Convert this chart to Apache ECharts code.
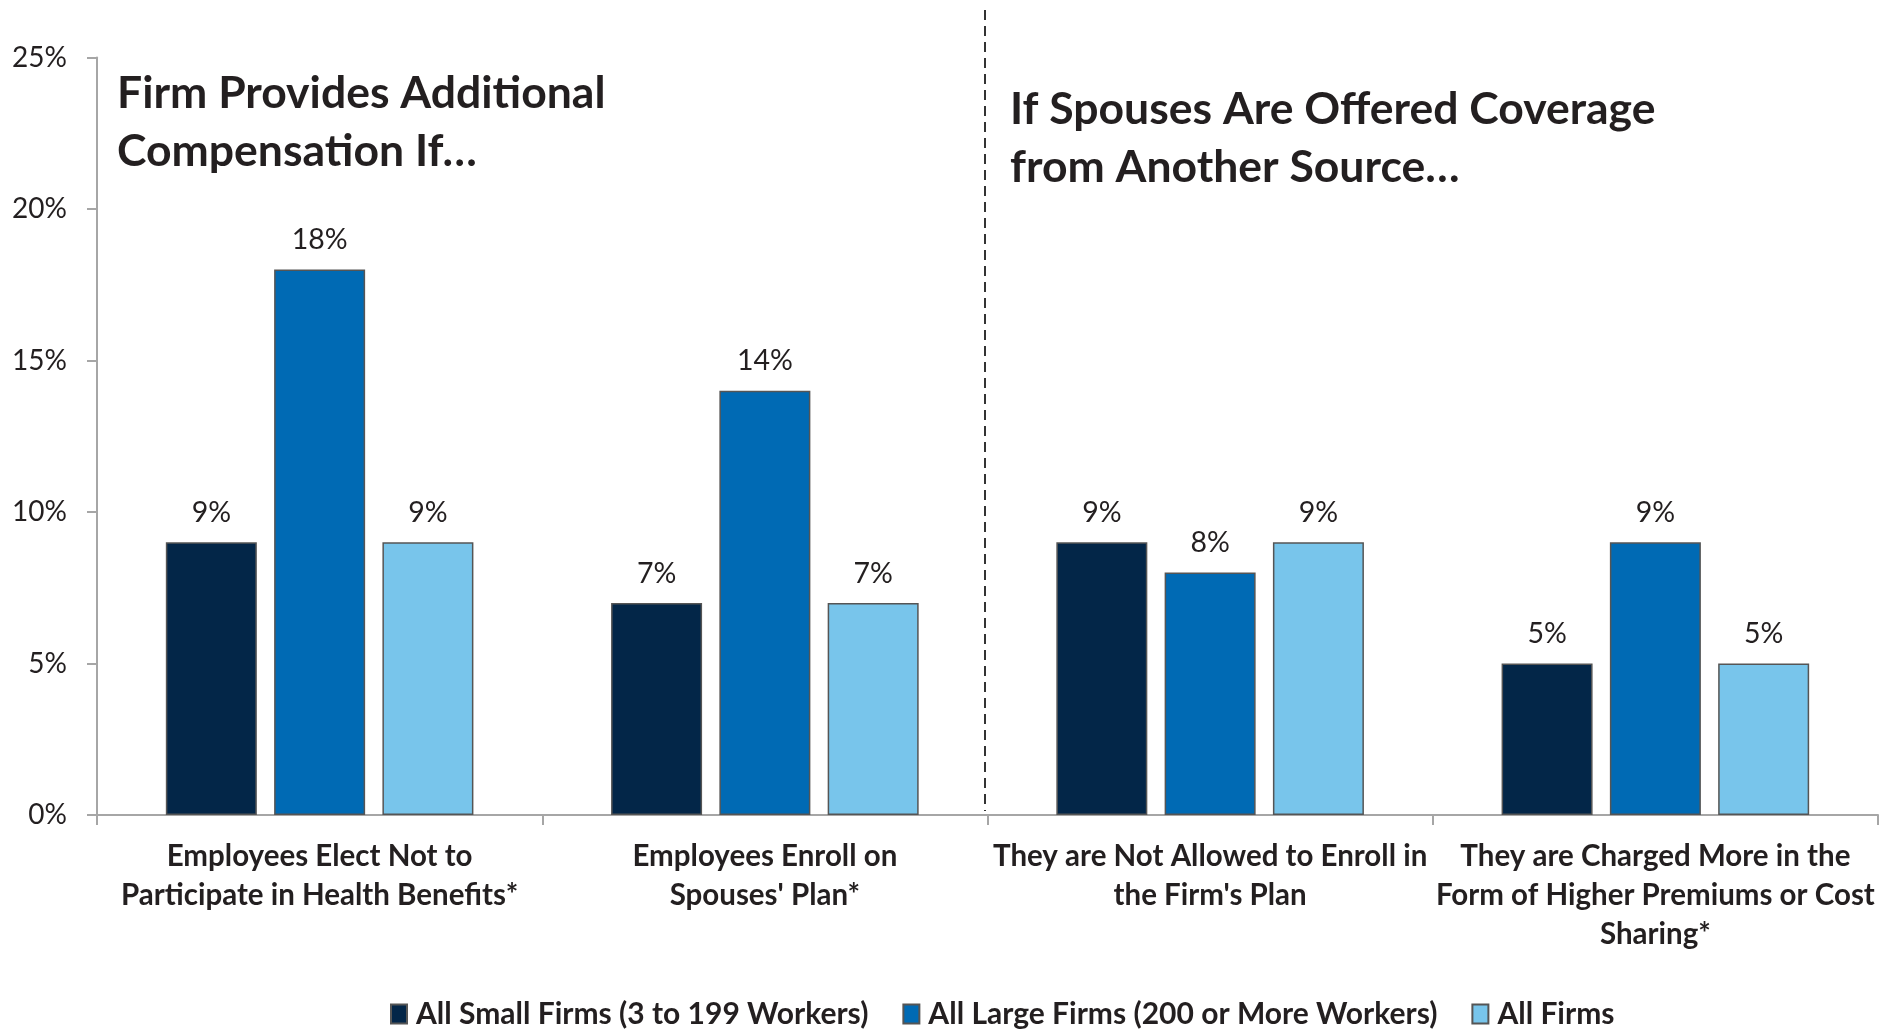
<!DOCTYPE html>
<html>
<head>
<meta charset="utf-8">
<script src="https://cdn.jsdelivr.net/npm/echarts@6/dist/echarts.min.js"></script>
<style>
  html, body { margin: 0; padding: 0; background: #fff; }
  #chart { width: 1896px; height: 1029px; }
</style>
</head>
<body>
<div id="chart"></div>
<script>
// Categories (with manual line breaks for the axis labels)
const categories = [
  'Employees Elect Not to\nParticipate in Health Benefits*',
  'Employees Enroll on\nSpouses\' Plan*',
  'They are Not Allowed to Enroll in\nthe Firm\'s Plan',
  'They are Charged More in the\nForm of Higher Premiums or Cost\nSharing*'
];

// Percent of firms, by firm size
const smallFirms = [9, 7, 9, 5];
const largeFirms = [18, 14, 8, 9];
const allFirms = [9, 7, 9, 5];

const seriesNames = [
  'All Small Firms (3 to 199 Workers)',
  'All Large Firms (200 or More Workers)',
  'All Firms'
];

const panelTitles = [
  'Firm Provides Additional\nCompensation If…',
  'If Spouses Are Offered Coverage\nfrom Another Source…'
];

const yTicks = { min: 0, max: 25, interval: 5 };

const colors = ['#032648', '#006AB4', '#78C5EB'];
const textColor = '#231f20';
const axisColor = '#a6a6a6';
const FONT = 'Lato, "Open Sans", sans-serif';

const chart = echarts.init(document.getElementById('chart'), null, { renderer: 'canvas' });

function barSeries(name, data, color) {
  return {
    name: name,
    type: 'bar',
    data: data,
    barWidth: 91,
    barGap: '19%',
    itemStyle: { color: color, borderColor: '#555555', borderWidth: 1.5 },
    label: {
      show: true,
      position: 'top',
      distance: 15,
      formatter: '{c}%',
      fontFamily: FONT,
      fontSize: 28.5,
      color: textColor
    },
    emphasis: { disabled: true }
  };
}

const titleStyle = { fontFamily: FONT, fontWeight: 'bold', fontSize: 44.5, lineHeight: 58, color: textColor };

const option = {
  animation: false,
  backgroundColor: '#ffffff',
  textStyle: { fontFamily: FONT },
  title: [
    { text: panelTitles[0], left: 117, top: 65, padding: 0, textStyle: titleStyle },
    { text: panelTitles[1], left: 1010, top: 81, padding: 0, textStyle: titleStyle }
  ],
  legend: {
    left: 385,
    top: 994,
    itemWidth: 16,
    itemHeight: 19,
    itemGap: 34,
    icon: 'rect',
    data: seriesNames,
    textStyle: {
      fontFamily: FONT, fontWeight: 'bold', fontSize: 30, color: textColor,
      padding: [0, 0, 0, 4]
    }
  },
  grid: { left: 97, right: 18, top: 57.5, bottom: 214, containLabel: false },
  xAxis: {
    type: 'category',
    data: categories,
    axisLine: { lineStyle: { color: axisColor, width: 2 } },
    axisTick: { show: true, length: 10, lineStyle: { color: axisColor, width: 2 } },
    axisLabel: {
      interval: 0,
      margin: 22,
      fontFamily: FONT,
      fontWeight: 'bold',
      fontSize: 29.5,
      lineHeight: 39,
      color: textColor,
      align: 'center'
    },
    splitLine: { show: false }
  },
  yAxis: {
    type: 'value',
    min: yTicks.min,
    max: yTicks.max,
    interval: yTicks.interval,
    axisLine: { show: true, lineStyle: { color: axisColor, width: 2 } },
    axisTick: { show: true, length: 10, lineStyle: { color: axisColor, width: 2 } },
    axisLabel: {
      formatter: '{value}%',
      margin: 30,
      fontFamily: FONT,
      fontSize: 28,
      color: textColor
    },
    splitLine: { show: false }
  },
  series: [
    barSeries(seriesNames[0], smallFirms, colors[0]),
    barSeries(seriesNames[1], largeFirms, colors[1]),
    barSeries(seriesNames[2], allFirms, colors[2])
  ]
};

chart.setOption(option);

// Dashed divider between the two panels, placed on the boundary between
// the second and third categories.
const xLeft = chart.convertToPixel({ xAxisIndex: 0 }, 1);
const xRight = chart.convertToPixel({ xAxisIndex: 0 }, 2);
const xDivider = Math.round((xLeft + xRight) / 2) - 3;
const yBase = chart.convertToPixel({ yAxisIndex: 0 }, 0);
chart.setOption({
  graphic: [{
    type: 'line',
    shape: { x1: xDivider, y1: 10, x2: xDivider, y2: yBase - 4 },
    style: { stroke: '#333333', lineWidth: 2, lineDash: [10, 6] },
    silent: true,
    z: 10
  }]
});
</script>
</body>
</html>
